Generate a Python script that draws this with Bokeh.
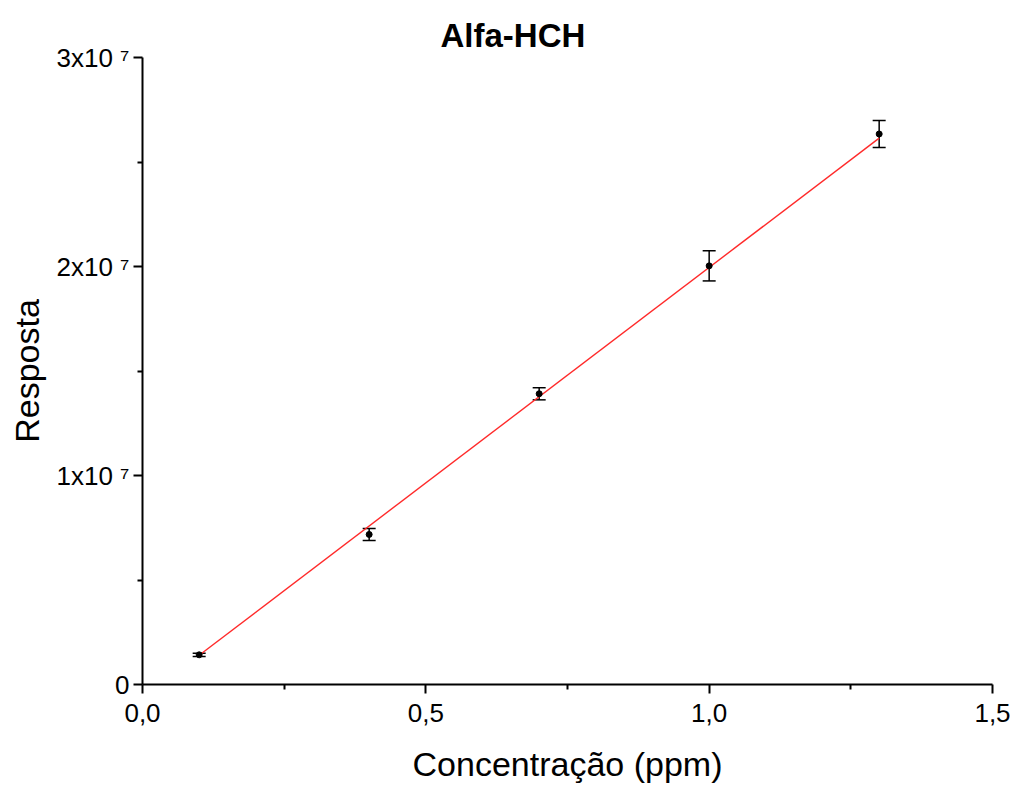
from bokeh.plotting import figure
from bokeh.models import ColumnDataSource, Whisker, TeeHead, FixedTicker, Range1d
from bokeh.embed import file_html
from bokeh.resources import INLINE

# Data
conc = [0.1, 0.4, 0.7, 1.0, 1.3]
resp = [1.42e6, 7.18e6, 1.391e7, 2.003e7, 2.634e7]
err = [0.08e6, 0.29e6, 0.29e6, 0.72e6, 0.65e6]
fit_x = [0.1, 1.3]
fit_y = [1.40e6, 2.614e7]

x_ticks = [0.0, 0.5, 1.0, 1.5]
x_tick_labels = ["0,0", "0,5", "1,0", "1,5"]
x_minor = [0.25, 0.75, 1.25]
y_ticks = [0, 1e7, 2e7, 3e7]
y_tick_labels = ["0", "1x10 \u2077", "2x10 \u2077", "3x10 \u2077"]
y_minor = [5e6, 1.5e7, 2.5e7]

FONT = "Liberation Sans"

p = figure(width=1018, height=787, output_backend="svg", toolbar_location=None,
           x_range=Range1d(0, 1.5), y_range=Range1d(0, 3e7),
           min_border_left=142, min_border_right=26, min_border_top=57, min_border_bottom=103)
p.outline_line_color = None
p.xgrid.visible = False
p.ygrid.visible = False
p.background_fill_color = "white"
p.border_fill_color = "white"

p.title.text = "Alfa-HCH"
p.title.text_font = FONT
p.title.text_font_size = "33px"
p.title.text_font_style = "bold"
p.title.text_color = "black"
p.title.align = "left"
p.title.offset = 298
p.title.standoff = 8

src = ColumnDataSource(dict(x=conc, y=resp, lower=[r - e for r, e in zip(resp, err)],
                            upper=[r + e for r, e in zip(resp, err)]))

p.line(fit_x, fit_y, line_color="#ff2a2a", line_width=1.4)

w = Whisker(source=src, base="x", lower="lower", upper="upper",
            line_color="black", line_width=1.5,
            upper_head=TeeHead(size=13, line_color="black", line_width=1.5),
            lower_head=TeeHead(size=13, line_color="black", line_width=1.5))
p.add_layout(w)
p.scatter("x", "y", source=src, size=6, color="black")

for ax, ticks, labels, minor in ((p.xaxis[0], x_ticks, x_tick_labels, x_minor),
                                 (p.yaxis[0], y_ticks, y_tick_labels, y_minor)):
    ax.ticker = FixedTicker(ticks=ticks, minor_ticks=minor)
    ax.major_label_overrides = {t: l for t, l in zip(ticks, labels)}
    ax.axis_line_width = 2
    ax.axis_line_color = "black"
    ax.major_tick_in = 0
    ax.major_tick_out = 9
    ax.major_tick_line_width = 2
    ax.minor_tick_in = 0
    ax.minor_tick_out = 5
    ax.minor_tick_line_width = 2
    ax.major_label_text_font = FONT
    ax.major_label_text_font_size = "26px"
    ax.major_label_text_color = "black"
    ax.axis_label_text_font = FONT
    ax.axis_label_text_font_size = "34px"
    ax.axis_label_text_font_style = "normal"
    ax.axis_label_text_color = "black"

p.xaxis.axis_label = "Concentração (ppm)"
p.yaxis.axis_label = "Resposta"
p.xaxis.major_label_standoff = 10
p.yaxis.major_label_standoff = 4
p.xaxis.axis_label_standoff = 20
p.yaxis.axis_label_standoff = 7

open("out.html", "w").write(file_html(p, INLINE))
